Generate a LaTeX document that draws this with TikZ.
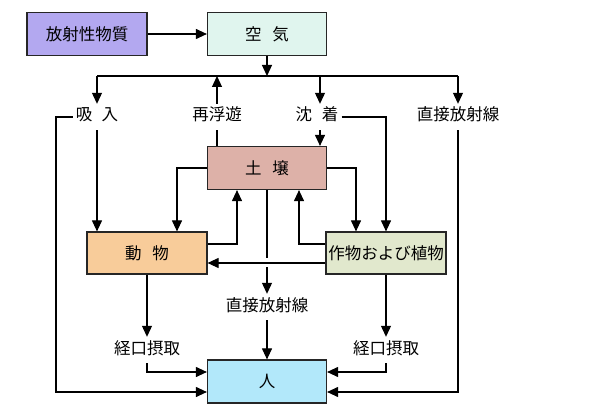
\documentclass[tikz,border=0pt]{standalone}
\usepackage{fontspec}
\newfontfamily\jp{Noto Sans CJK JP}
\usetikzlibrary{arrows.meta}
\definecolor{cSrc}{HTML}{B3A8F0}
\definecolor{cAir}{HTML}{E0F5EE}
\definecolor{cSoil}{HTML}{DDB1A8}
\definecolor{cAni}{HTML}{F8CC9A}
\definecolor{cPlant}{HTML}{E1E8CD}
\definecolor{cHum}{HTML}{B2E8FA}
\begin{document}
\begin{tikzpicture}[x=1pt,y=-1pt,
  jpfont/.style={font=\jp\fontsize{16.5}{19}\selectfont},
  box/.style={draw=black!85,line width=1.2pt,minimum width=119pt,minimum height=43pt,inner sep=0pt,jpfont},
  lbl/.style={inner xsep=3pt,inner ysep=5pt,text height=12pt,text depth=4pt,jpfont},
  arr/.style={line width=1.1pt,-{Triangle[length=11pt,width=10pt]}},
  ln/.style={line width=1.1pt}]
\useasboundingbox[fill=white] (0,0) rectangle (600,417);
% boxes
\node[box,fill=cSrc,minimum width=120pt] (src) at (87,34) {放射性物質};
\node[box,fill=cAir] (air) at (267,34) {空\hspace{0.65em}気};
\node[box,fill=cSoil] (soil) at (267,168) {土\hspace{0.65em}壌};
\node[box,fill=cAni,minimum width=120pt,minimum height=42pt] (ani) at (147,253) {動\hspace{0.65em}物};
\node[box,fill=cPlant,minimum width=120pt,minimum height=42pt] (plant) at (386,253) {作物および植物};
\node[box,fill=cHum] (hum) at (267,381.5) {人};
% labels
\node[lbl] (inh) at (97,117) {吸\hspace{0.55em}入};
\node[lbl] (res) at (217,117) {再浮遊};
\node[lbl] (dep) at (317,117) {沈\hspace{0.6em}着};
\node[lbl] (dr1) at (458,117) {直接放射線};
\node[lbl] (dr2) at (267,307) {直接放射線};
\node[lbl] (ing1) at (147,350) {経口摂取};
\node[lbl] (ing2) at (386,350) {経口摂取};
% helper coordinates
\coordinate (j) at (267,76);
\coordinate (L) at (56,117);
\coordinate (g1) at (267,258);
\coordinate (g2) at (267,267);
\coordinate (dx) at (320,76);
% connectors
\draw[arr] (src.east) -- (air.west);
\draw[arr] (air.south) -- (j);
\draw[ln] (inh.north |- j) -- (dr1.north |- j);
\draw[arr] (inh.north |- j) -- (inh.north);
\draw[arr] (dx) -- (dx |- dep.north);
\draw[arr] (dr1.north |- j) -- (dr1.north);
\draw[arr] (res.north) -- (res.north |- j);
\draw[ln] (soil.north -| res) -- (res.south);
\draw[arr] (dx |- dep.south) -- (dx |- soil.north);
\draw[arr] (dep.east) -| (plant.north);
\draw[arr] (inh.south) -- (inh.south |- ani.north);
\draw[arr] (inh.west) -- (L) |- ([yshift=-10.5pt]hum.west);
\draw[arr] (dr1.south) |- ([yshift=-10.5pt]hum.east);
\draw[arr] (soil.west) -| ([xshift=30pt]ani.north);
\draw[arr] (soil.east) -| ([xshift=-30pt]plant.north);
\draw[arr] ([yshift=9pt]ani.east) -| ([xshift=-30pt]soil.south);
\draw[arr] ([yshift=9pt]plant.west) -| ([xshift=32pt]soil.south);
\draw[arr] ([yshift=-10pt]plant.west) -- ([yshift=-10pt]ani.east);
\draw[ln] (soil.south) -- (g1);
\draw[arr] (g2) -- (dr2.north);
\draw[arr] (dr2.south) -- (hum.north);
\draw[arr] (ani.south) -- (ing1.north);
\draw[arr] (ing1.south) |- ([yshift=9.5pt]hum.west);
\draw[arr] (ing2.north |- plant.south) -- (ing2.north);
\draw[arr] (ing2.south) |- ([yshift=9.5pt]hum.east);
\end{tikzpicture}
\end{document}
